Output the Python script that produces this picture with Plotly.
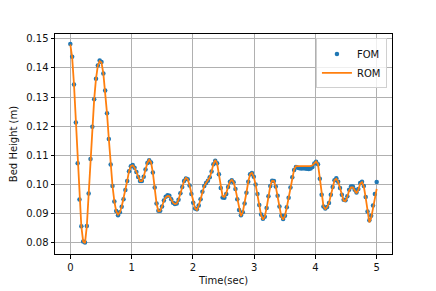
import numpy as np
import plotly.graph_objects as go

fom = [
    0.1482, 0.1438, 0.1343, 0.1213, 0.1073, 0.0949, 0.0857, 0.0805, 0.0801, 0.0858,
    0.0969, 0.1088, 0.1198, 0.1292, 0.1363, 0.1408, 0.1425, 0.1420, 0.1381, 0.1322,
    0.1244, 0.1156, 0.1069, 0.0995, 0.0942, 0.0909, 0.0895, 0.0905, 0.0924, 0.0950,
    0.0981, 0.1012, 0.1046, 0.1063, 0.1067, 0.1058, 0.1043, 0.1026, 0.1012, 0.1012,
    0.1027, 0.1052, 0.1074, 0.1083, 0.1076, 0.1041, 0.0990, 0.0935, 0.0910, 0.0910,
    0.0925, 0.0945, 0.0958, 0.0963, 0.0962, 0.0950, 0.0938, 0.0933, 0.0935, 0.0948,
    0.0970, 0.0992, 0.1012, 0.1021, 0.1018, 0.0997, 0.0968, 0.0938, 0.0918, 0.0915,
    0.0928, 0.0950, 0.0975, 0.0995, 0.1005, 0.1013, 0.1025, 0.1045, 0.1070, 0.1082,
    0.1073, 0.1035, 0.0988, 0.0956, 0.0955, 0.0968, 0.0992, 0.1010, 0.1015, 0.1008,
    0.0985, 0.0950, 0.0913, 0.0895, 0.0905, 0.0935, 0.0972, 0.1010, 0.1035, 0.1040,
    0.1027, 0.1000, 0.0968, 0.0930, 0.0897, 0.0883, 0.0890, 0.0920, 0.0960, 0.0995,
    0.1013, 0.1012, 0.0993, 0.0962, 0.0925, 0.0893, 0.0882, 0.0893, 0.0922, 0.0955,
    0.0990, 0.1025, 0.1050, 0.1060, 0.1058, 0.1056, 0.1055, 0.1056, 0.1055, 0.1054,
    0.1053, 0.1055, 0.1060, 0.1072, 0.1078, 0.1070, 0.1020, 0.0965, 0.0925, 0.0918,
    0.0923, 0.0937, 0.0965, 0.0992, 0.1015, 0.1022, 0.1010, 0.0988, 0.0965, 0.0948,
    0.0946, 0.0960, 0.0982, 0.0993, 0.0993, 0.0982, 0.0973, 0.0985, 0.1005, 0.1010,
    0.0995, 0.0957, 0.0908, 0.0878, 0.0893, 0.0928, 0.0968, 0.1009,
]

rom = [
    0.1480, 0.1436, 0.1343, 0.1213, 0.1073, 0.0949, 0.0857, 0.0805, 0.0799, 0.0858,
    0.0969, 0.1088, 0.1198, 0.1292, 0.1363, 0.1408, 0.1423, 0.1418, 0.1381, 0.1322,
    0.1244, 0.1156, 0.1069, 0.0995, 0.0942, 0.0909, 0.0897, 0.0905, 0.0924, 0.0950,
    0.0981, 0.1012, 0.1046, 0.1063, 0.1066, 0.1058, 0.1043, 0.1026, 0.1012, 0.1012,
    0.1027, 0.1052, 0.1074, 0.1085, 0.1076, 0.1041, 0.0990, 0.0935, 0.0908, 0.0910,
    0.0925, 0.0945, 0.0956, 0.0961, 0.0960, 0.0950, 0.0938, 0.0933, 0.0935, 0.0948,
    0.0970, 0.0992, 0.1012, 0.1023, 0.1018, 0.0997, 0.0968, 0.0938, 0.0918, 0.0913,
    0.0928, 0.0950, 0.0975, 0.0995, 0.1005, 0.1013, 0.1025, 0.1045, 0.1070, 0.1084,
    0.1073, 0.1035, 0.0988, 0.0960, 0.0958, 0.0970, 0.0992, 0.1010, 0.1016, 0.1008,
    0.0985, 0.0950, 0.0913, 0.0892, 0.0905, 0.0935, 0.0972, 0.1010, 0.1035, 0.1040,
    0.1027, 0.1000, 0.0968, 0.0930, 0.0895, 0.0880, 0.0890, 0.0920, 0.0960, 0.0995,
    0.1013, 0.1012, 0.0993, 0.0962, 0.0925, 0.0891, 0.0880, 0.0893, 0.0922, 0.0955,
    0.0990, 0.1025, 0.1052, 0.1063, 0.1063, 0.1062, 0.1063, 0.1064, 0.1062, 0.1063,
    0.1062, 0.1063, 0.1066, 0.1074, 0.1079, 0.1070, 0.1020, 0.0965, 0.0925, 0.0916,
    0.0923, 0.0937, 0.0965, 0.0992, 0.1015, 0.1020, 0.1010, 0.0988, 0.0965, 0.0945,
    0.0944, 0.0958, 0.0980, 0.0990, 0.0990, 0.0980, 0.0970, 0.0982, 0.1003, 0.1008,
    0.0993, 0.0955, 0.0905, 0.0870, 0.0885, 0.0915, 0.0950, 0.0985,
]

t_start, t_end = 0.0, 5.0
time = np.linspace(t_start, t_end, len(fom))

x_ticks = [0, 1, 2, 3, 4, 5]
y_ticks = [0.08, 0.09, 0.10, 0.11, 0.12, 0.13, 0.14, 0.15]

fig = go.Figure()
fig.add_trace(go.Scatter(
    x=time, y=fom, mode="markers", name="FOM",
    marker=dict(color="#1f77b4", size=4.5),
))
fig.add_trace(go.Scatter(
    x=time, y=rom, mode="lines", name="ROM",
    line=dict(color="#ff7f0e", width=1.8),
))

axis_common = dict(
    showline=True, linecolor="black", linewidth=1, mirror=True,
    showgrid=True, gridcolor="#b0b0b0", gridwidth=0.8,
    ticks="outside", ticklen=3.5, tickwidth=0.8, tickcolor="black",
    zeroline=False, tickfont=dict(size=10, color="#111"), automargin=False,
)

# page body has an 8px default margin; figure sized to fit the window
fig.update_layout(
    width=428, height=283,
    margin=dict(l=46.5, r=44, t=26, b=37),
    paper_bgcolor="white", plot_bgcolor="white",
    font=dict(family="DejaVu Sans", size=10, color="#111"),
    showlegend=True,
    legend=dict(
        x=0.985, y=0.98, xanchor="right", yanchor="top",
        bgcolor="rgba(255,255,255,0.8)", bordercolor="#d0d0d0", borderwidth=1,
        font=dict(size=10), itemwidth=30, tracegroupgap=0,
    ),
    xaxis=dict(
        range=[-0.25, 5.25], tickvals=x_ticks,
        title=dict(text="Time(sec)", standoff=5, font=dict(size=10)),
        **axis_common,
    ),
    yaxis=dict(
        range=[0.0762, 0.1516], tickvals=y_ticks, tickformat=".2f",
        title=dict(text="Bed Height (m)", standoff=6, font=dict(size=10)),
        **axis_common,
    ),
)

fig.write_html("out.html")
